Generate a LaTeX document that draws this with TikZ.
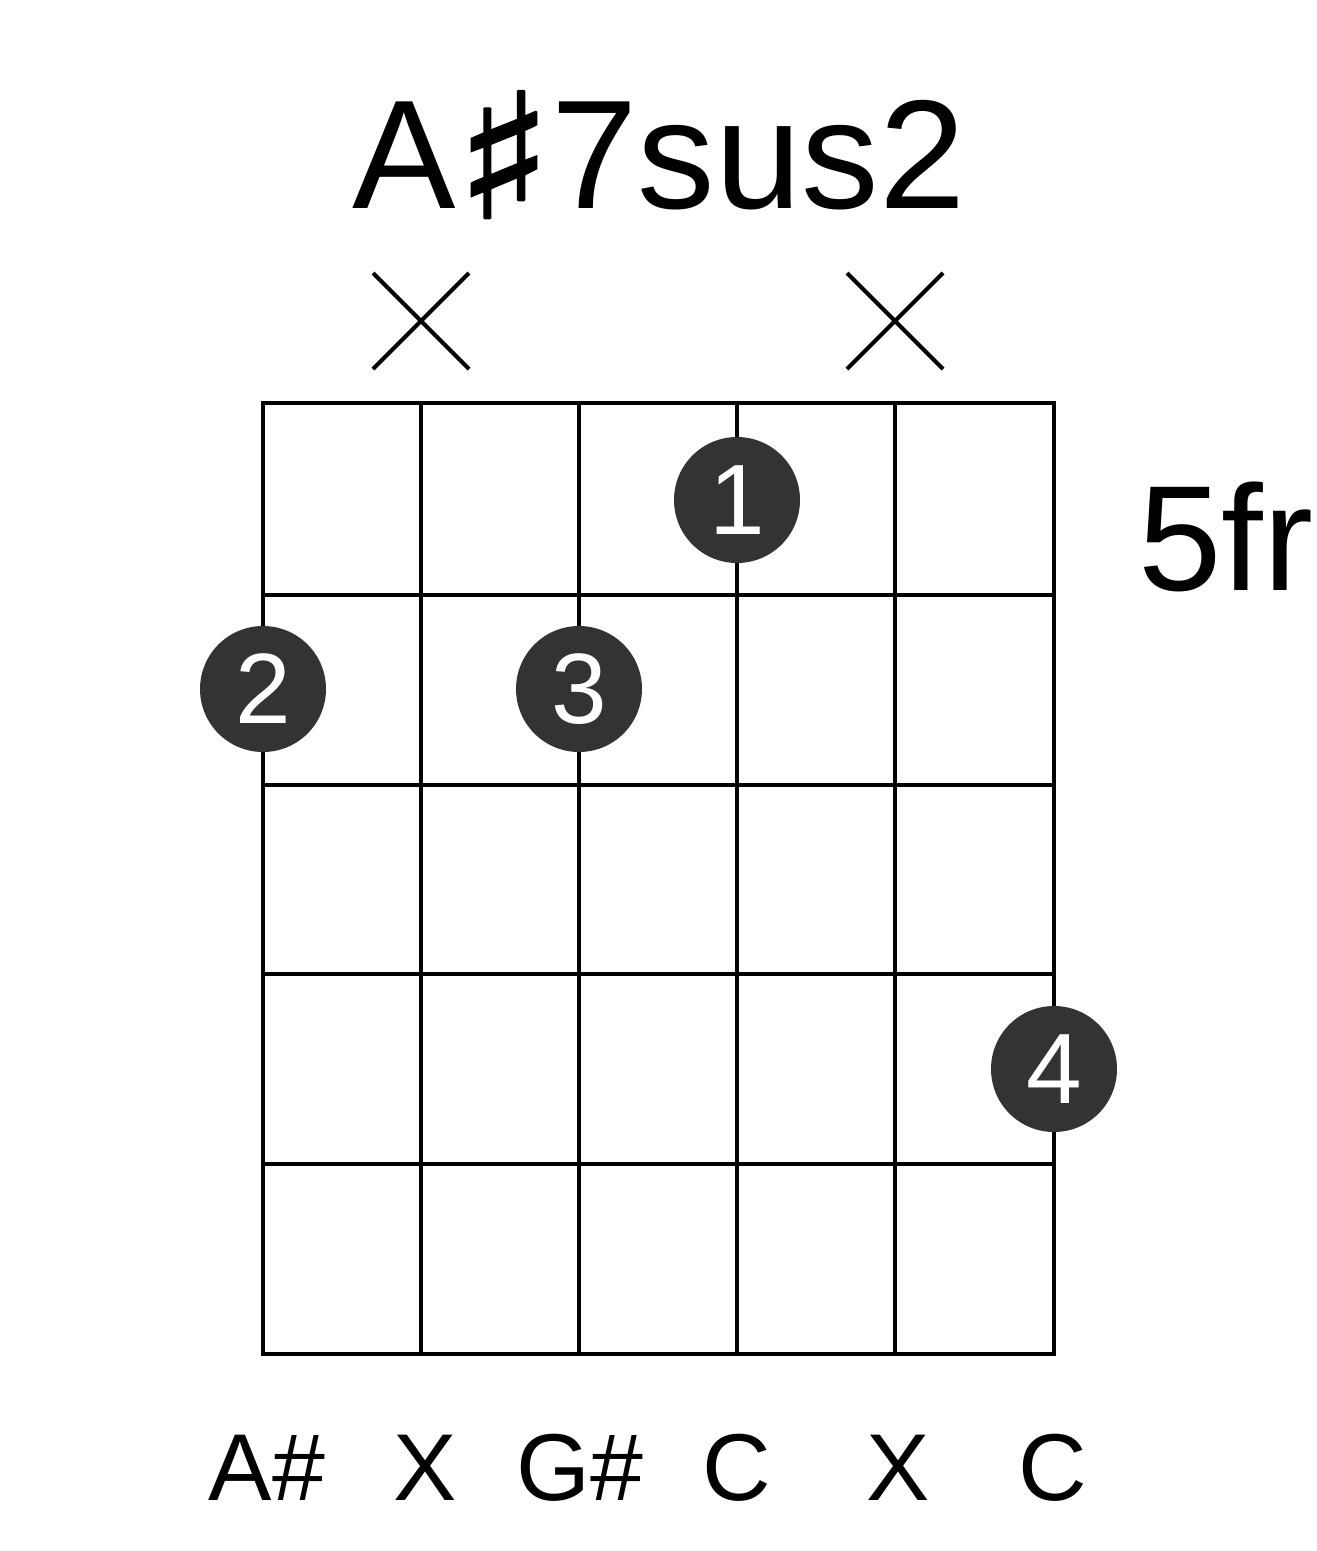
\documentclass[tikz,border=0pt]{standalone}
\usepackage{fontspec}
\setmainfont{Liberation Sans}
\newfontfamily\dejavu[FakeBold=1.5]{DejaVu Sans}
\definecolor{dotgray}{HTML}{333333}
\begin{document}
\begin{tikzpicture}[x=1pt,y=-1pt,
  gridline/.style={line width=4pt,black},
  mutemark/.style={line width=4pt,black},
  fingerdot/.style={circle,fill=dotgray,minimum size=126pt,inner sep=0pt,text=white,font=\fontsize{100}{100}\selectfont},
  notelabel/.style={anchor=base,inner sep=0pt,font=\fontsize{95}{95}\selectfont},
]
\useasboundingbox (0,0) rectangle (1317,1551);
% title
\node[anchor=base,inner sep=0pt,font=\fontsize{155}{155}\selectfont] (title) at (659,208) {A\kern-1pt\raisebox{-10pt}{\scalebox{1.3}[1.12]{\dejavu ♯}}\kern-1pt 7sus2};
% fret label
\node[anchor=base west,inner sep=0pt,font=\fontsize{150}{150}\selectfont] (fr) at (1138,590) {5fr};
% grid
\foreach \i/\x in {1/263,2/421,3/579,4/737,5/895,6/1054} {
  \coordinate (s\i top) at (\x,403);
  \coordinate (s\i bot) at (\x,1354);
  \draw[gridline] (s\i top) -- (s\i bot);
}
\foreach \j/\y in {0/403,1/595,2/785,3/974,4/1164,5/1354} {
  \coordinate (f\j l) at (263,\y);
  \coordinate (f\j r) at (1054,\y);
  \draw[gridline,line cap=rect] (f\j l) -- (f\j r);
}
% mute marks
\foreach \n/\x in {a/421,b/895} {
  \coordinate (m\n1) at (\x-48,273);
  \coordinate (m\n2) at (\x+48,369);
  \coordinate (m\n3) at (\x-48,369);
  \coordinate (m\n4) at (\x+48,273);
  \draw[mutemark] (m\n1) -- (m\n2);
  \draw[mutemark] (m\n3) -- (m\n4);
}
% finger dots
\node[fingerdot] (d1) at (737,500) {1};
\node[fingerdot] (d2) at (263,689) {2};
\node[fingerdot] (d3) at (579,689) {3};
\node[fingerdot] (d4) at (1054,1069) {4};
% note labels
\node[notelabel] (n1) at (267,1500) {A\#};
\node[notelabel] (n2) at (425,1500) {X};
\node[notelabel] (n3) at (580,1500) {G\#};
\node[notelabel] (n4) at (737,1500) {C};
\node[notelabel] (n5) at (898,1500) {X};
\node[notelabel] (n6) at (1053,1500) {C};
\end{tikzpicture}
\end{document}
